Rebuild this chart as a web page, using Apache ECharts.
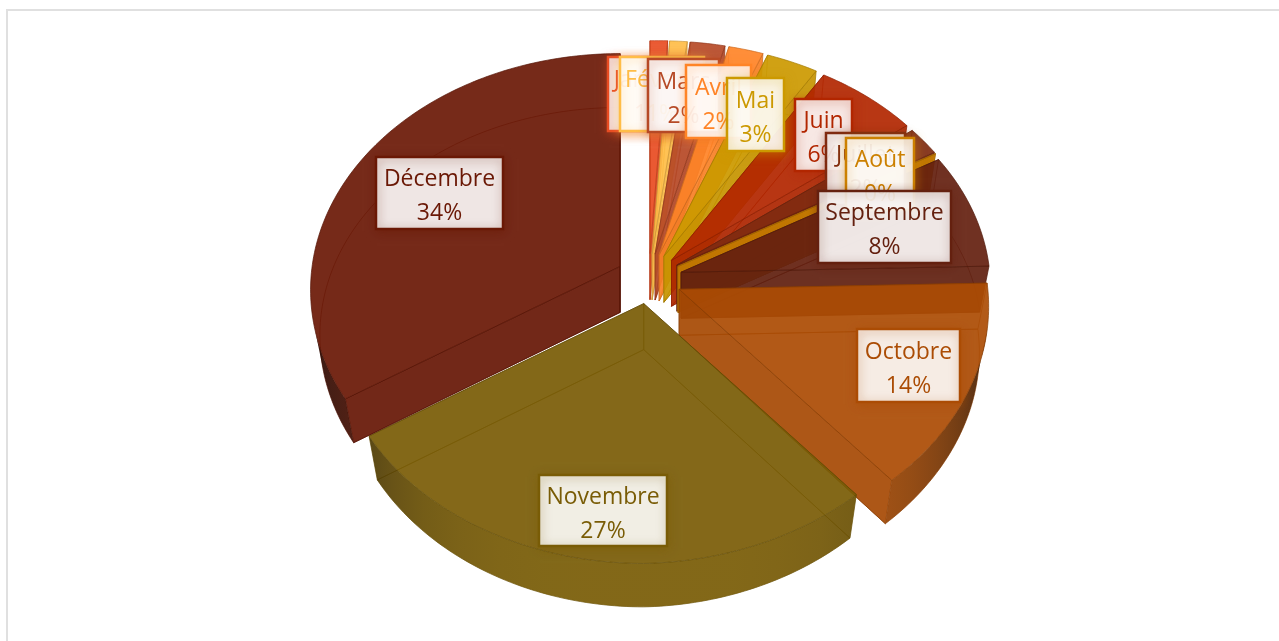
<!DOCTYPE html>
<html>
<head>
<meta charset="utf-8"/>
<title>Camembert 3D par mois</title>
<style>
    html,body{margin:0;padding:0;background:#fff;}
    #main{width:1279px;height:641px;}
</style>
<script src="https://cdn.jsdelivr.net/npm/echarts@6/dist/echarts.min.js"></script>
</head>
<body>
<div id="main"></div>
<script>
    var months = ["Janvier","Février","Mars","Avril","Mai","Juin","Juillet","Août","Septembre","Octobre","Novembre","Décembre"];
    var percents = [1,1,2,2,3,6,2,0,8,14,27,34];
    var sliceColors = ["#e84c22","#ffbd47","#b64926","#ff8427","#cc9900","#b22600","#7f2a10","#cc8000","#64200f","#ab4c04","#795c06","#6a1805"];
    // boite des etiquettes [gauche, haut, droite, bas], placees a la main comme dans Excel
    var labelBoxes = [
        [608,57,692,131],[620,57,704,131],[648,59,719,132],[686,65,751,138],
        [727,78,784,151],[795,99,852,171],[826,133,905,205],[846,138,914,210],
        [818,191,951,263],[857,329,960,402],[539,475,667,546],[376,157,503,229]
    ];

    // vue 3D : perspective locale de chaque part
    var cx = 649, cy = 278.5;
    var scaleX = 308, scaleY = 234, persp = 0.0994, shear = 0.02;
    var explode = 0.1076, depth = 46;

    function local(theta, r){
        var a = theta*Math.PI/180;
        var u = r*Math.sin(a), v = r*Math.cos(a);
        var d = 1+persp*v;
        return {x: scaleX*u/d, y: -scaleY*v/d, v: v};
    }
    function topPt(o, theta, r){
        var p = local(theta, r);
        return [o[0]+p.x, o[1]+p.y-shear*Math.max(p.x,0)];
    }
    function botPt(o, theta, r){
        var p = local(theta, r);
        return [o[0]+p.x*0.97, o[1]+depth+p.y*(0.9765-0.0135*p.v)-shear*Math.max(p.x,0)];
    }
    function arc(fn, o, t0, t1){
        var pts = [], n = Math.max(2, Math.ceil(Math.abs(t1-t0)));
        for(var i=0;i<=n;i++){
            pts.push(fn(o, t0+(t1-t0)*i/n, 1));
        }
        return pts;
    }
    function darken(hex, f, a){
        var c = echarts.color.parse(hex);
        return "rgba("+Math.round(c[0]*f)+","+Math.round(c[1]*f)+","+Math.round(c[2]*f)+","+(a==null?1:a)+")";
    }
    function alpha(hex, a){
        return echarts.color.modifyAlpha(hex, a);
    }
    // ombre du mur exterieur suivant son orientation
    function wallShade(theta){
        var s = Math.abs(Math.sin(theta*Math.PI/180));
        return 1-0.7*Math.pow(s,4);
    }
    function wallGradient(t0, t1, color){
        var stops = [], i;
        for(i=0;i<=12;i++){
            var t = t0+(t1-t0)*i/12;
            stops.push({t:t, off:topPt([0,0],t,1)[0]});
        }
        var lo = stops[0].off, hi = stops[0].off;
        stops.forEach(function(s){lo=Math.min(lo,s.off);hi=Math.max(hi,s.off);});
        var list = stops.map(function(s){
            return {offset:(s.off-lo)/(hi-lo||1), color:darken(color, wallShade(s.t), 0.92)};
        }).sort(function(a,b){return a.offset-b.offset;});
        return {type:"linear",x:0,y:0,x2:1,y2:0,colorStops:list};
    }

    var total = percents.reduce(function(a,b){return a+b;},0);
    var startAngles = [], run = 0;
    percents.forEach(function(p){
        startAngles.push(run/total*360);
        run += p;
    });

    function renderSlice(params, api){
        var i = params.dataIndex;
        var val = api.value(0);
        var t0 = startAngles[i], t1 = t0+val/total*360;
        var color = sliceColors[i];
        var mid = (t0+t1)/2;
        var off = local(mid, explode);
        var o = [cx+off.x, cy+off.y];
        var line = darken(color, 0.8);
        var children = [];
        function poly(pts, fill){
            children.push({
                type:"polygon",
                shape:{points:pts},
                style:{fill:fill, stroke:line, lineWidth:0.7}
            });
        }
        var topArc = arc(topPt, o, t0, t1);
        var botArc = arc(botPt, o, t0, t1);

        // fond
        poly([botPt(o,0,0)].concat(botArc), alpha(color,0.08));
        // murs radiaux
        var w0 = [topPt(o,t0,0),topPt(o,t0,1),botPt(o,t0,1),botPt(o,t0,0)];
        var w1 = [topPt(o,t1,0),topPt(o,t1,1),botPt(o,t1,1),botPt(o,t1,0)];
        var s0 = Math.sin(t0*Math.PI/180), s1 = Math.sin(t1*Math.PI/180);
        poly(w0, s0 < -0.01 ? darken(color,0.97,0.92) : alpha(color,0.1));
        poly(w1, s1 > 0.01 ? darken(color,0.97,0.92) : alpha(color,0.1));
        // mur exterieur, seulement la partie qui depasse du dessus
        var a = Math.max(t0,101), b = Math.min(t1,256);
        if(b > a){
            var wt = arc(topPt, o, a, b), wb = arc(botPt, o, a, b);
            children.push({
                type:"polygon",
                shape:{points:wt.concat(wb.reverse())},
                style:{fill:wallGradient(a, b, color)}
            });
        }
        // dessus
        poly([topPt(o,0,0)].concat(topArc), alpha(color,0.92));
        return {type:"group", children:children};
    }

    function renderLabel(params, api){
        var i = params.dataIndex;
        var box = labelBoxes[i];
        var color = sliceColors[i];
        return {
            type:"group",
            children:[{
                type:"rect",
                shape:{x:box[0],y:box[1],width:box[2]-box[0],height:box[3]-box[1]},
                style:{
                    fill:"rgba(255,255,255,0.89)",
                    stroke:color,
                    lineWidth:2.5,
                    shadowBlur:10,
                    shadowColor:alpha(color,0.5),
                    shadowOffsetX:1,
                    shadowOffsetY:2
                }
            },{
                type:"text",
                style:{
                    x:(box[0]+box[2])/2,
                    y:(box[1]+box[3])/2+3.5,
                    text:months[i]+"\n"+api.value(0)+"%",
                    fill:color,
                    font:"23px 'Open Sans'",
                    lineHeight:34,
                    align:"center",
                    verticalAlign:"middle"
                }
            }]
        };
    }

    var chart = echarts.init(document.getElementById("main"));
    chart.setOption({
        animation:false,
        backgroundColor:"#fff",
        graphic:[{
            type:"rect",
            shape:{x:7,y:10,width:1300,height:700},
            style:{fill:"none",stroke:"#e0e0e0",lineWidth:2},
            silent:true
        }],
        series:[{
            type:"custom",
            coordinateSystem:"none",
            renderItem:renderSlice,
            data:percents,
            z:2
        },{
            type:"custom",
            coordinateSystem:"none",
            renderItem:renderLabel,
            data:percents,
            z:3
        }]
    });
</script>
</body>
</html>
